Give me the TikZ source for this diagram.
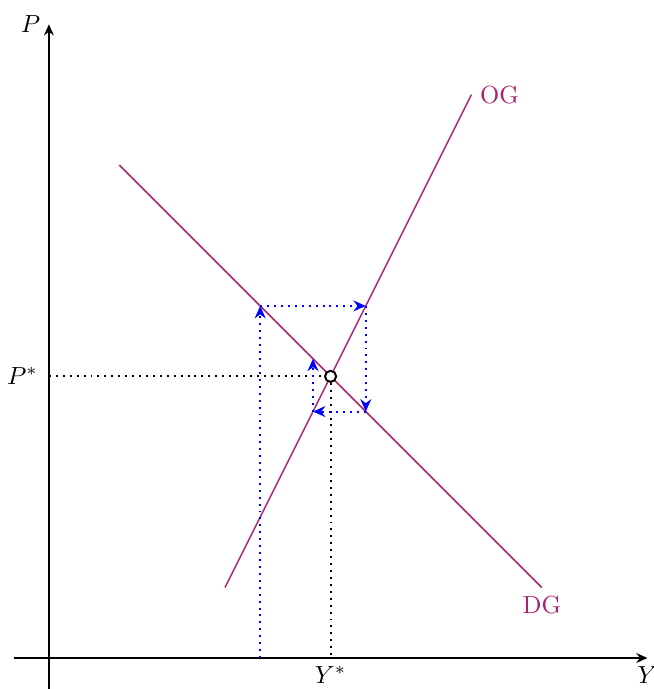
\documentclass[tikz,border=0pt]{standalone}
\usepackage{amsmath,amssymb}
\usepackage{xcolor}
\usepackage{tikz}
\usetikzlibrary{arrows.meta, positioning}

\definecolor{curvecol}{RGB}{170,35,115}

\begin{document}
\begin{tikzpicture}[x=0.5cm, y=0.5cm]
    \tikzstyle{axis} = [draw, semithick, -{Stealth[length=4.5pt, width=4pt]}]
    \tikzstyle{curve} = [draw, curvecol, line width=0.6pt]
    \tikzstyle{guide} = [draw, thick, dotted]
    \tikzstyle{adjust} = [draw, blue, thick, dotted, -{Stealth[length=5pt, width=4.4pt]}]
    \tikzstyle{lbl} = [text=curvecol]

    \useasboundingbox (-1.39,-0.88) rectangle (17.16,18.69);

    % axes
    \coordinate (xstart) at (-1,0);
    \coordinate (xend) at (17,0);
    \coordinate (ystart) at (0,-1);
    \coordinate (yend) at (0,18);
    \path [axis] (xstart) -- (xend);
    \path [axis] (ystart) -- (yend);
    \node [left=0pt of yend] (plabel) {$P$};
    \node [below=0pt of xend] (ylabel) {$Y$};

    % curves
    \coordinate (dgtop) at (2,14);
    \coordinate (dgbot) at (14,2);
    \coordinate (ogbot) at (5,2);
    \coordinate (ogtop) at (12,16);
    \path [curve] (dgtop) -- (dgbot);
    \path [curve] (ogbot) -- (ogtop);
    \node [lbl, right=0pt of ogtop] (og) {OG};
    \node [lbl, below=0pt of dgbot] (dg) {DG};

    % equilibrium
    \node [circle, draw, thick, fill=white, inner sep=0pt, minimum size=4.5pt] (eq) at (8,8) {};
    \coordinate (pstar) at (0,8);
    \coordinate (ystar) at (8,0);
    \path [guide] (pstar) -- (eq.west);
    \path [guide] (eq.south) -- (ystar);
    \node [left=1pt of pstar] (plab) {$P^{*}$};
    \node [below=0pt of ystar] (ylab) {$Y^{*}$};

    % adjustment path
    \coordinate (a0) at (6,0);
    \coordinate (a1) at (6,10);
    \coordinate (a2) at (9,10);
    \coordinate (a3) at (9,7);
    \coordinate (a4) at (7.5,7);
    \coordinate (a5) at (7.5,8.5);
    \path [adjust] (a0) -- (a1);
    \path [adjust] (a1) -- (a2);
    \path [adjust] (a2) -- (a3);
    \path [adjust] (a3) -- (a4);
    \path [adjust] (a4) -- (a5);
\end{tikzpicture}
\end{document}
